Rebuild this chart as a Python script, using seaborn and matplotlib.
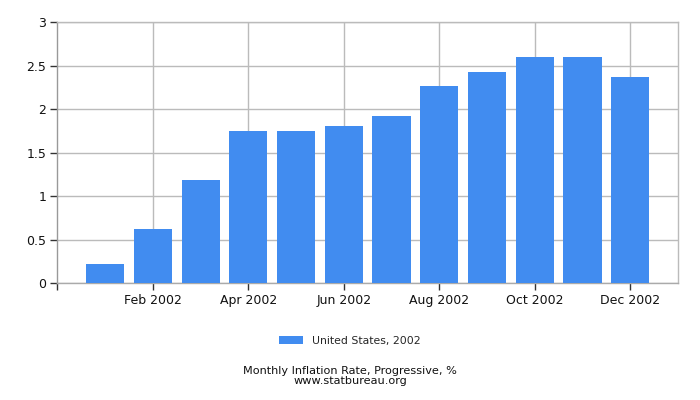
import matplotlib
matplotlib.use("Agg")
import matplotlib.pyplot as plt
import seaborn as sns
import pandas as pd
from matplotlib.ticker import FuncFormatter, FixedLocator

months = ["Jan 2002", "Feb 2002", "Mar 2002", "Apr 2002", "May 2002", "Jun 2002",
          "Jul 2002", "Aug 2002", "Sep 2002", "Oct 2002", "Nov 2002", "Dec 2002"]
values = [0.22, 0.62, 1.19, 1.75, 1.75, 1.81, 1.92, 2.27, 2.43, 2.60, 2.60, 2.37]
series_label = "United States, 2002"
yticks = [0, 0.5, 1, 1.5, 2, 2.5, 3]
title_lines = ["Monthly Inflation Rate, Progressive, %", "www.statbureau.org"]

df = pd.DataFrame({"month": months, "value": values})

sns.set_style("white")
plt.rcParams["font.family"] = ["DejaVu Sans"]

fig = plt.figure(figsize=(7, 4), dpi=100)
ax = fig.add_axes([0.082, 0.2918, 0.8866, 0.6522])

sns.barplot(data=df, x="month", y="value", order=months, color="#418cf0",
            saturation=1, width=0.8, label=series_label, ax=ax, zorder=3,
            linewidth=0, edgecolor="none")
if ax.get_legend() is not None:
    ax.get_legend().remove()

ax.set_xlim(-1, 12)
ax.set_ylim(0, 3)
ax.set_yticks(yticks)
ax.yaxis.set_major_formatter(FuncFormatter(lambda v, p: f"{v:g}"))
tick_idx = [1, 3, 5, 7, 9, 11]
ax.set_xticks(tick_idx)
ax.set_xticklabels([months[i] for i in tick_idx])
ax.xaxis.set_minor_locator(FixedLocator([-1]))
ax.set_xlabel("")
ax.set_ylabel("")

ax.grid(True, which="major", color="#bbbbbb", linewidth=1, zorder=0)
ax.set_axisbelow(True)
for s in ["top", "right"]:
    ax.spines[s].set_color("#bbbbbb")
    ax.spines[s].set_linewidth(1)
ax.spines["left"].set_color("#999999")
ax.spines["bottom"].set_color("#aaaaaa")
ax.spines["left"].set_linewidth(1)
ax.spines["bottom"].set_linewidth(1)

ax.tick_params(axis="both", which="both", direction="out", length=5, width=1,
               color="#333333", labelsize=9, labelcolor="#111111", pad=3,
               bottom=True, left=True)

handles, labels = ax.get_legend_handles_labels()
fig.legend(handles[:1], labels[:1], loc="center", bbox_to_anchor=(0.5, 0.148),
           frameon=False, fontsize=7.8, handlelength=2.2, handleheight=0.8)

fig.text(0.5, 0.072, title_lines[0], ha="center", va="center", fontsize=8.1, color="#111111")
fig.text(0.5, 0.047, title_lines[1], ha="center", va="center", fontsize=8.1, color="#111111")

fig.savefig("out.png", dpi=100)
